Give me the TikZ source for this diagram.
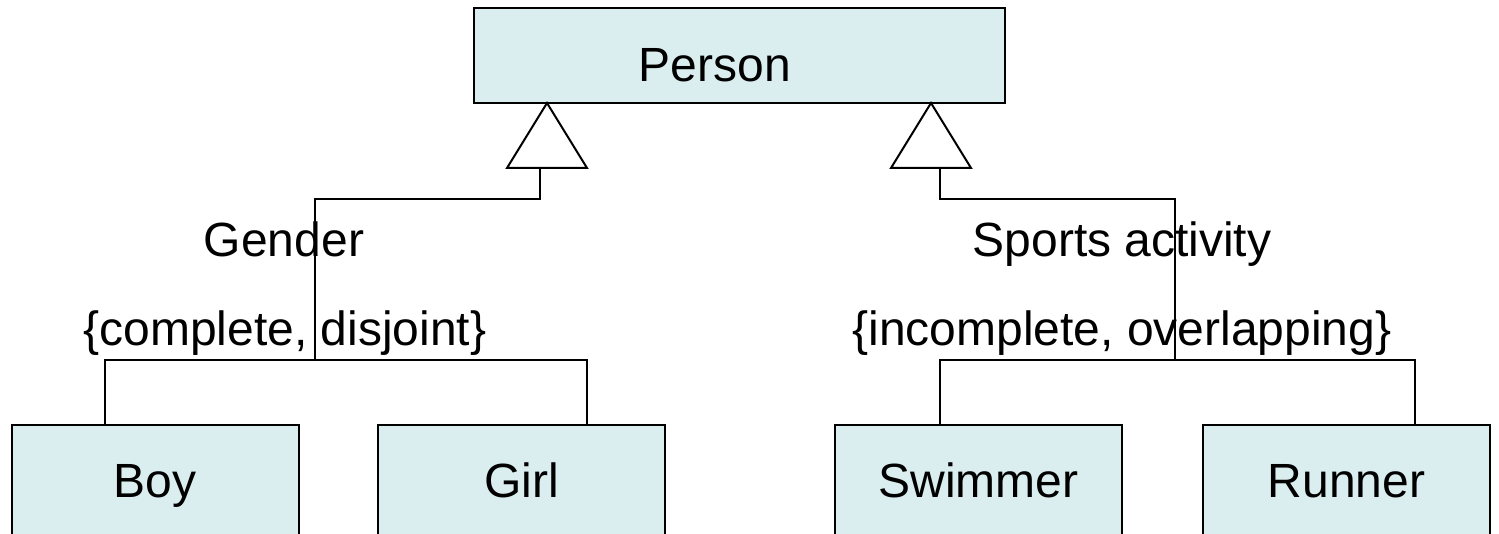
\documentclass[tikz,border=0pt]{standalone}
\usepackage{fontspec}
\setmainfont{Liberation Sans}
\definecolor{boxfill}{RGB}{218,237,239}
\begin{document}
\begin{tikzpicture}[x=1pt,y=-1pt,
  txt/.style={font=\fontsize{48}{56}\selectfont},
  cls/.style={txt, draw=black, line width=2pt, fill=boxfill, inner sep=0pt},
  leaf/.style={cls, minimum width=287pt, minimum height=120pt,
               text height=35pt, text depth=10pt},
  lbl/.style={txt, inner sep=0pt, anchor=base},
  link/.style={draw=black, line width=2pt},
  gen/.style={draw=black, line width=2pt, fill=white, line join=miter}]
\useasboundingbox (0,0) rectangle (1499,534);
\clip (0,0) rectangle (1499,534);

% classes
\node[cls, minimum width=531pt, minimum height=95pt,
      text height=53pt, text depth=0pt] (person) at (739.5,55.5)
      {\hspace*{-49pt}Person};
\node[leaf] (boy)     at (155,485)    {Boy};
\node[leaf] (girl)    at (521.5,485)  {Girl};
\node[leaf] (swimmer) at (978.5,485)  {Swimmer};
\node[leaf] (runner)  at (1346.5,485) {Runner};

% generalization set labels
\node[lbl] (gender)   at (284,257)  {Gender};
\node[lbl] (gcons)    at (285,346)  {\{complete, disjoint\}};
\node[lbl] (sports)   at (1122,257) {Sports activity};
\node[lbl] (scons)    at (1122,346) {\{incomplete, overlapping\}};

% junction points of the two hierarchies
\coordinate (gapex) at (547,103);
\coordinate (gmid)  at (540,168);
\coordinate (gjoin) at (315,360);
\coordinate (sapex) at (931,103);
\coordinate (smid)  at (940,168);
\coordinate (sjoin) at (1175,360);

% gender tree
\draw[link] (gmid) -- ++(0,31) -| (gjoin);
\draw[link] (boy.north -| 105,0) |- (gjoin) -| (girl.north -| 587,0);
\draw[gen] (gapex) -- ++(-40,65) -- ++(80,0) -- cycle;

% sports tree
\draw[link] (smid) -- ++(0,31) -| (sjoin);
\draw[link] (swimmer.north -| 940,0) |- (sjoin) -| (runner.north -| 1415,0);
\draw[gen] (sapex) -- ++(-40,65) -- ++(80,0) -- cycle;
\end{tikzpicture}
\end{document}
